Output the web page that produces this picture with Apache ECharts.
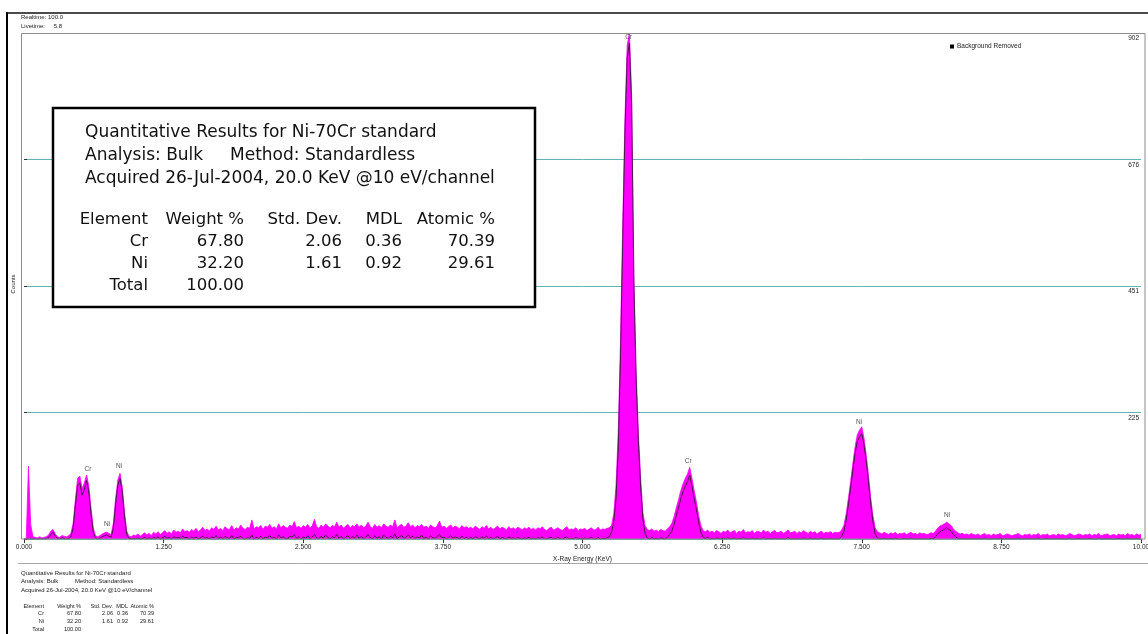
<!DOCTYPE html>
<html>
<head>
<meta charset="utf-8">
<title>Ni-70Cr EDS spectrum</title>
<script src="https://cdn.jsdelivr.net/npm/echarts@6/dist/echarts.min.js"></script>
<style>
  html, body { margin: 0; padding: 0; background: #fff; }
  #chart { width: 1148px; height: 634px; }
</style>
</head>
<body>
<div id="chart"></div>
<script>
// Channel calibration of the spectrum (keV)
const energyStartKeV = 0;
const energyStepKeV = 0.02;

// Raw spectrum counts, one value per channel, 0.00 .. 10.00 keV (25 channels per row = 0.5 keV)
const spectrumCounts = [
  0, 0, 130, 26, 4, 3, 2, 4, 2, 3, 4, 7, 14, 17, 9, 4, 3, 6, 5, 4, 6, 10, 28, 70, 108,
  112, 90, 100, 114, 95, 55, 20, 6, 4, 6, 9, 11, 12, 10, 8, 28, 72, 105, 117, 92, 48, 14, 5, 4, 7,
  6, 9, 5, 8, 11, 7, 10, 6, 12, 9, 13, 8, 11, 15, 10, 13, 9, 16, 12, 14, 11, 18, 13, 15, 12,
  17, 14, 19, 13, 16, 21, 15, 18, 14, 20, 17, 23, 16, 19, 15, 22, 18, 17, 24, 16, 20, 18, 25, 19, 17,
  21, 19, 34, 18, 22, 20, 24, 17, 23, 21, 26, 19, 22, 18, 27, 20, 24, 21, 19, 25, 22, 31, 20, 23, 19,
  24, 21, 26, 20, 23, 35, 22, 19, 25, 21, 27, 23, 20, 24, 22, 30, 21, 25, 19, 23, 26, 20, 24, 22, 27,
  21, 25, 20, 23, 30, 22, 19, 26, 21, 24, 20, 27, 23, 21, 25, 22, 34, 20, 24, 26, 21, 23, 29, 22, 25,
  20, 24, 22, 26, 21, 23, 19, 25, 22, 20, 24, 32, 21, 23, 19, 22, 25, 20, 23, 21, 18, 24, 20, 22, 19,
  21, 18, 23, 20, 17, 22, 19, 24, 18, 21, 17, 20, 23, 18, 21, 19, 16, 22, 18, 20, 17, 21, 19, 16, 20,
  18, 21, 17, 19, 16, 20, 18, 22, 17, 15, 19, 21, 16, 18, 20, 17, 15, 19, 22, 16, 18, 17, 20, 15, 18,
  17, 19, 15, 18, 20, 16, 17, 21, 16, 18, 17, 19, 20, 24, 45, 95, 190, 350, 560, 750, 880, 902, 790, 470, 300,
  190, 110, 48, 24, 17, 15, 18, 14, 16, 13, 17, 15, 14, 18, 22, 28, 40, 56, 70, 86, 98, 108, 116, 128, 108,
  86, 66, 42, 24, 15, 13, 16, 12, 14, 11, 15, 13, 10, 14, 12, 16, 11, 13, 15, 10, 14, 12, 17, 11, 13,
  12, 15, 10, 14, 13, 11, 16, 12, 14, 10, 13, 15, 11, 12, 14, 10, 13, 16, 11, 12, 14, 10, 13, 11, 15,
  12, 10, 14, 11, 13, 9, 12, 14, 10, 12, 11, 13, 10, 12, 11, 12, 16, 24, 44, 72, 102, 134, 164, 186, 194,
  200, 180, 150, 114, 74, 42, 20, 13, 11, 9, 12, 10, 8, 11, 9, 12, 8, 10, 9, 11, 8, 10, 12, 9, 10,
  8, 11, 9, 10, 8, 9, 11, 10, 14, 19, 23, 25, 27, 30, 27, 24, 18, 14, 11, 9, 10, 8, 9, 7, 10,
  8, 7, 9, 6, 8, 10, 7, 8, 6, 9, 7, 8, 10, 6, 7, 9, 8, 6, 7, 8, 10, 7, 6, 8, 7,
  9, 6, 8, 7, 10, 6, 8, 7, 9, 6, 7, 8, 6, 9, 7, 8, 6, 7, 10, 8, 6, 7, 9, 8, 6,
  8, 7, 9, 6, 8, 7, 10, 6, 7, 8, 9, 6, 7, 8, 6, 9, 7, 8, 6, 10, 7, 8, 6, 9, 7,
  8
];

// Counts with the bremsstrahlung background removed, same channels
const backgroundRemovedCounts = [
  0, 0, 0, 0, 0, 0, 0, 0, 0, 0, 1, 3, 8, 12, 5, 1, 0, 2, 1, 0, 1, 4, 20, 60, 96,
  100, 78, 88, 104, 84, 45, 12, 2, 0, 1, 4, 6, 7, 5, 3, 20, 62, 96, 108, 84, 40, 8, 1, 0, 1,
  0, 2, 0, 1, 3, 0, 2, 0, 3, 1, 4, 0, 2, 5, 1, 3, 0, 4, 2, 3, 1, 5, 2, 3, 0,
  3, 1, 4, 0, 2, 5, 1, 3, 0, 4, 2, 6, 1, 3, 0, 5, 2, 1, 6, 0, 3, 2, 5, 1, 0,
  2, 1, 7, 0, 3, 1, 5, 0, 4, 2, 6, 1, 3, 0, 7, 2, 4, 1, 0, 5, 3, 8, 1, 4, 0,
  4, 1, 6, 0, 3, 8, 2, 0, 5, 1, 7, 3, 0, 4, 2, 8, 1, 5, 0, 3, 6, 1, 4, 2, 7,
  1, 5, 0, 3, 8, 2, 0, 6, 1, 4, 0, 7, 3, 1, 5, 2, 9, 0, 4, 6, 1, 3, 7, 2, 5,
  1, 4, 2, 7, 1, 3, 0, 6, 2, 1, 5, 8, 2, 4, 0, 3, 6, 1, 4, 2, 0, 5, 1, 3, 0,
  3, 0, 5, 2, 0, 4, 1, 6, 0, 3, 0, 2, 5, 0, 3, 1, 0, 4, 1, 2, 0, 3, 1, 0, 2,
  1, 3, 0, 2, 0, 3, 1, 4, 0, 0, 2, 3, 0, 1, 3, 0, 0, 2, 4, 0, 1, 0, 3, 0, 1,
  0, 2, 0, 1, 3, 0, 0, 3, 0, 1, 0, 2, 4, 12, 30, 72, 160, 322, 530, 725, 858, 884, 772, 452, 284,
  174, 96, 36, 10, 2, 0, 3, 0, 1, 0, 2, 1, 0, 3, 8, 14, 26, 42, 56, 72, 84, 94, 102, 114, 94,
  72, 52, 30, 12, 3, 1, 3, 0, 1, 0, 2, 1, 0, 2, 0, 3, 0, 1, 2, 0, 1, 0, 3, 0, 1,
  0, 2, 0, 1, 0, 0, 3, 0, 1, 0, 0, 2, 0, 0, 1, 0, 0, 3, 0, 0, 1, 0, 0, 0, 2,
  0, 0, 2, 0, 1, 0, 0, 2, 0, 0, 0, 1, 0, 0, 0, 1, 5, 13, 33, 60, 90, 122, 152, 174, 182,
  188, 168, 139, 103, 63, 31, 9, 2, 1, 0, 2, 0, 0, 1, 0, 2, 0, 0, 0, 1, 0, 0, 2, 0, 0,
  0, 1, 0, 0, 0, 0, 1, 0, 4, 9, 13, 15, 17, 20, 17, 14, 8, 4, 1, 0, 1, 0, 0, 0, 1,
  0, 0, 1, 0, 0, 2, 0, 0, 0, 1, 0, 0, 2, 0, 0, 1, 0, 0, 0, 0, 2, 0, 0, 0, 0,
  1, 0, 0, 0, 2, 0, 0, 0, 1, 0, 0, 0, 0, 1, 0, 0, 0, 0, 2, 0, 0, 0, 1, 0, 0,
  0, 0, 1, 0, 0, 0, 2, 0, 0, 0, 1, 0, 0, 0, 0, 1, 0, 0, 0, 2, 0, 0, 0, 1, 0,
  0
];

// Axis tick labels
const xTickLabels = ['0.000', '1.250', '2.500', '3.750', '5.000', '6.250', '7.500', '8.750', '10.00'];
const yTickLabels = ['', '225', '451', '676', '902'];

// Element line markers: name, line energy (keV), height of the marker text (counts)
const peakNames = ['Cr', 'Ni', 'Ni', 'Cr', 'Cr', 'Ni', 'Ni'];
const peakEnergies = [0.573, 0.743, 0.851, 5.414, 5.946, 7.477, 8.264];
const peakLabelCounts = [125, 27, 129, 895, 139, 209, 43];

// Quantitative results
const resultElements = ['Cr', 'Ni'];
const weightPercent = ['67.80', '32.20'];
const stdDeviation = ['2.06', '1.61'];
const mdlValues = ['0.36', '0.92'];
const atomicPercent = ['70.39', '29.61'];
const totalWeightPercent = '100.00';
const tableHeaders = ['Element', 'Weight %', 'Std. Dev.', 'MDL', 'Atomic %'];
const reportTitle = 'Quantitative Results for Ni-70Cr standard';
const reportAnalysis = 'Analysis: Bulk';
const reportMethod = 'Method: Standardless';
const reportAcquired = 'Acquired 26-Jul-2004, 20.0 KeV @10 eV/channel';
const realtimeText = '100.0';
const livetimeText = '5.8';

// ---------------------------------------------------------------
const X_MAX = 10, X_STEP = 1.25, Y_MAX = 902, Y_STEP = 225.5;
const SMALL_FONT = 'Liberation Sans, Arial, sans-serif';
const BOX_FONT = 'DejaVu Sans, Verdana, sans-serif';

const toPairs = arr => arr.map((c, i) => [energyStartKeV + i * energyStepKeV, c]);
const spectrumData = toPairs(spectrumCounts);
const bgRemovedData = toPairs(backgroundRemovedCounts);
const peakData = peakNames.map((n, i) => [peakEnergies[i], peakLabelCounts[i], n]);

function txt(x, y, text, size, align, color, family) {
  return {
    type: 'text', x: x, y: y, z: 110,
    style: {
      text: text, fill: color || '#222',
      font: size + 'px ' + (family || SMALL_FONT),
      align: align || 'left', verticalAlign: 'middle'
    }
  };
}

// Results table: header lines, column headers, element rows and total
function resultsBlock(cfg) {
  const out = [];
  const s = cfg.size, ts = cfg.tableSize || cfg.size, f = cfg.family, c = cfg.color;
  out.push(txt(cfg.x0, cfg.lineY[0], reportTitle, s, 'left', c, f));
  out.push(txt(cfg.x0, cfg.lineY[1], reportAnalysis, s, 'left', c, f));
  out.push(txt(cfg.methodX, cfg.lineY[1], reportMethod, s, 'left', c, f));
  out.push(txt(cfg.x0, cfg.lineY[2], reportAcquired, s, 'left', c, f));
  tableHeaders.forEach((h, j) => out.push(txt(cfg.cols[j], cfg.rowY[0], h, ts, 'right', c, f)));
  resultElements.forEach((el, i) => {
    const row = [el, weightPercent[i], stdDeviation[i], mdlValues[i], atomicPercent[i]];
    row.forEach((v, j) => out.push(txt(cfg.cols[j], cfg.rowY[i + 1], v, ts, 'right', c, f)));
  });
  out.push(txt(cfg.cols[0], cfg.rowY[3], 'Total', ts, 'right', c, f));
  out.push(txt(cfg.cols[1], cfg.rowY[3], totalWeightPercent, ts, 'right', c, f));
  return out;
}

const graphics = [
  // outer page frame
  { type: 'line', z: 100, shape: { x1: 7, y1: 12, x2: 7, y2: 634 }, style: { stroke: '#000', lineWidth: 2 } },
  { type: 'line', z: 100, shape: { x1: 6, y1: 13, x2: 1148, y2: 13 }, style: { stroke: '#111', lineWidth: 1.5 } },
  // plot frame
  { type: 'rect', z: 100, shape: { x: 21.5, y: 33.5, width: 1123.5, height: 505.5 },
    style: { fill: 'none', stroke: '#8c8c8c', lineWidth: 1 } },
  // separator above the report
  { type: 'line', z: 100, shape: { x1: 18, y1: 563.5, x2: 1148, y2: 563.5 }, style: { stroke: '#a8a8a8', lineWidth: 1 } },
  // acquisition times
  txt(21, 17.5, 'Realtime: ' + realtimeText, 6, 'left', '#222'),
  txt(21, 26, 'Livetime:', 6, 'left', '#222'),
  txt(62, 26, livetimeText, 6, 'right', '#222'),
  // y axis title
  { type: 'text', z: 110, x: 13, y: 284, rotation: Math.PI / 2,
    style: { text: 'Counts', fill: '#222', font: '6px ' + SMALL_FONT, align: 'center', verticalAlign: 'middle' } },
  // results box
  { type: 'rect', z: 105, shape: { x: 53, y: 108, width: 482, height: 199 },
    style: { fill: '#fff', stroke: '#000', lineWidth: 2.5 } }
];

graphics.push(...resultsBlock({
  x0: 85, methodX: 230, lineY: [133, 156, 179], rowY: [220, 242, 264, 286],
  cols: [148, 244, 342, 402, 495], size: 17, tableSize: 16.5, family: BOX_FONT, color: '#111'
}));
graphics.push(...resultsBlock({
  x0: 21, methodX: 75, lineY: [573, 581.5, 590], rowY: [606, 613.5, 621, 629],
  cols: [44, 81, 113, 128, 154], size: 6, tableSize: 5.6, family: SMALL_FONT, color: '#222'
}));

const chart = echarts.init(document.getElementById('chart'), null, { renderer: 'canvas' });
chart.setOption({
  animation: false,
  backgroundColor: '#fff',
  grid: { left: 24, right: 7, top: 33, bottom: 95, outerBoundsMode: 'none', containLabel: false },
  legend: {
    data: ['Background Removed'],
    left: 945, top: 38, icon: 'rect', itemWidth: 4, itemHeight: 4,
    textStyle: { fontSize: 6.5, fontFamily: SMALL_FONT, color: '#222', padding: [0, 0, 0, -2] },
    selectedMode: false
  },
  xAxis: [
    {
      type: 'value', position: 'bottom', min: 0, max: X_MAX, interval: X_STEP,
      axisLine: { show: false },
      axisTick: { show: true, inside: false, length: 4, lineStyle: { color: '#333' } },
      axisLabel: {
        margin: 5, fontSize: 6.5, fontFamily: SMALL_FONT, color: '#222',
        formatter: v => xTickLabels[Math.round(v / X_STEP)]
      },
      splitLine: { show: false },
      name: 'X-Ray Energy (KeV)', nameLocation: 'middle', nameGap: 15,
      nameTextStyle: { fontSize: 6.5, fontFamily: SMALL_FONT, color: '#222' }
    },
    {
      type: 'value', position: 'top', min: 0, max: X_MAX, interval: X_STEP,
      axisLine: { show: false },
      axisTick: { show: true, inside: true, length: 3, lineStyle: { color: '#333' } },
      axisLabel: { show: false },
      splitLine: { show: false }
    }
  ],
  yAxis: [
    {
      type: 'value', position: 'right', min: 0, max: Y_MAX, interval: Y_STEP,
      axisLine: { show: false },
      axisTick: { show: false },
      axisLabel: {
        inside: true, margin: 2, fontSize: 6.5, fontFamily: SMALL_FONT, color: '#222',
        verticalAlign: 'top', padding: [2, 0, 0, 0],
        formatter: v => yTickLabels[Math.round(v / Y_STEP)]
      },
      splitLine: { show: true, lineStyle: { color: '#62b4b4', width: 1 } }
    },
    {
      type: 'value', position: 'left', offset: 3, min: 0, max: Y_MAX, interval: Y_STEP,
      axisLine: { show: false },
      axisTick: { show: true, inside: true, length: 3, lineStyle: { color: '#333' } },
      axisLabel: { show: false },
      splitLine: { show: false }
    }
  ],
  series: [
    {
      name: 'Spectrum', type: 'line', xAxisIndex: 0, yAxisIndex: 0,
      data: spectrumData, showSymbol: false, symbol: 'none', silent: true, z: 2,
      lineStyle: { color: '#ff00ff', width: 0.8 },
      itemStyle: { color: '#ff00ff' },
      areaStyle: { color: '#ff00ff', opacity: 1 }
    },
    {
      name: 'Background Removed', type: 'line', xAxisIndex: 0, yAxisIndex: 0,
      data: bgRemovedData, showSymbol: false, symbol: 'none', silent: true, z: 3,
      lineStyle: { color: '#1e1e1e', width: 0.8 },
      itemStyle: { color: '#000' }
    },
    {
      name: 'Lines', type: 'scatter', xAxisIndex: 0, yAxisIndex: 0,
      data: peakData, symbolSize: 0, silent: true, z: 4,
      label: {
        show: true, position: 'inside', formatter: p => p.data[2],
        fontSize: 6.5, fontFamily: SMALL_FONT, color: '#222'
      }
    }
  ],
  graphic: { elements: graphics }
});
</script>
</body>
</html>
